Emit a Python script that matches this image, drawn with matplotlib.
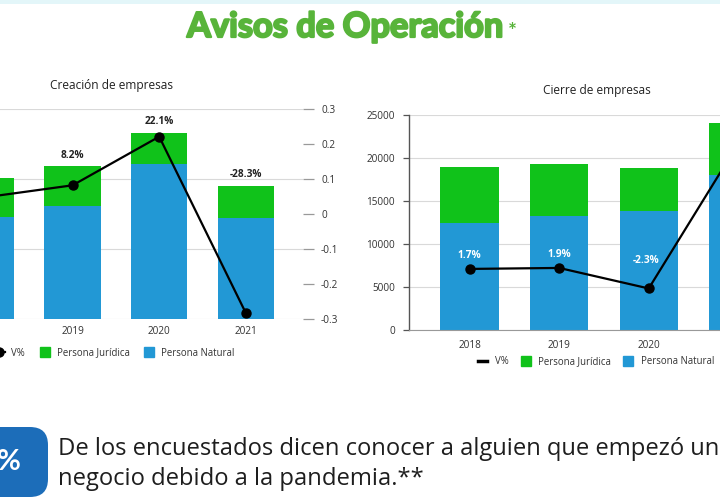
import matplotlib
matplotlib.use("Agg")
import matplotlib.pyplot as plt
import matplotlib.patheffects as pe
from matplotlib.lines import Line2D
from matplotlib.patches import FancyBboxPatch, Rectangle

# ---------------- data ----------------
years = ["2018", "2019", "2020", "2021"]
crea_natural = [14600, 16150, 22150, 14450]
crea_juridica = [5550, 5650, 4450, 4600]
crea_var = [0.048, 0.082, 0.221, -0.283]
crea_var_labels = [None, "8.2%", "22.1%", "-28.3%"]

cierre_natural = [12400, 13300, 13850, 18000]
cierre_juridica = [6550, 6010, 5020, 6050]
cierre_var = [0.017, 0.019, -0.023, 0.274]
cierre_var_labels = ["1.7%", "1.9%", "-2.3%", None]

right_ticks = [-0.3, -0.2, -0.1, 0, 0.1, 0.2, 0.3]
right_tick_labels = ["-0.3", "-0.2", "-0.1", "0", "0.1", "0.2", "0.3"]
cierre_ticks = [0, 5000, 10000, 15000, 20000, 25000]

title = "Avisos de Operación"
note = "De los encuestados dicen conocer a alguien que empezó un\nnegocio debido a la pandemia.**"

GREEN = "#10c21a"
BLUE = "#2298d5"
GRID = "#d9d9d9"
TXT = "#333333"
W, H = 720, 500

fig = plt.figure(figsize=(7.2, 5.0), dpi=100)
fig.patch.set_facecolor("white")


def fx(x):
    return x / W


def fy(y):
    return 1 - y / H


def box(x0, x1, y0, y1):
    return [fx(x0), fy(y1), (x1 - x0) / W, (y1 - y0) / H]


CF = "Open Sans"
x = list(range(len(years)))
bw = 0.65
TS = 7.2   # tick size

# top band
fig.add_artist(Rectangle((0, fy(4)), 1, 4 / H, transform=fig.transFigure,
                         color="#e3f6f9", lw=0))

# title
TITLE_C = "#58b43a"
t = fig.text(fx(187), fy(37), title, family="Lato", weight="bold", fontsize=24.8,
             color=TITLE_C, va="baseline", ha="left",
             path_effects=[pe.withStroke(linewidth=1.6, foreground=TITLE_C)])
renderer = fig.canvas.get_renderer()
bb = t.get_window_extent(renderer)
fig.text((bb.x1 + 4) / W, fy(32), "*", family="Lato", weight="bold", fontsize=15,
         color=TITLE_C, va="center", ha="left")

# ---------------- left chart ----------------
ax1 = fig.add_axes(box(-79, 303, 109, 319))
ax1.bar(x, crea_natural, bw, color=BLUE, zorder=2)
ax1.bar(x, crea_juridica, bw, bottom=crea_natural, color=GREEN, zorder=2)
ax1.set_xlim(-0.75, 3.66)
ax1.set_ylim(0, 30000)
ax1.set_yticks([0, 10000, 20000, 30000])
ax1.yaxis.grid(True, color=GRID, lw=0.8, zorder=0)
ax1.set_axisbelow(True)
ax1.tick_params(axis="y", left=False, labelleft=False)
ax1.tick_params(axis="x", length=0, labelsize=TS, labelcolor=TXT, pad=5)
ax1.set_xticks(x)
ax1.set_xticklabels(years, family=CF)
for s in ax1.spines.values():
    s.set_visible(False)

ax1b = ax1.twinx()
ax1b.plot(x, crea_var, color="black", lw=1.6, marker="o", ms=6.5, zorder=5)
ax1b.set_ylim(-0.3, 0.3)
ax1b.set_yticks(right_ticks)
ax1b.set_yticklabels(right_tick_labels, family=CF)
ax1b.tick_params(axis="y", length=8, width=0.9, color="#999999", labelsize=TS,
                 labelcolor=TXT, pad=5)
for s in ax1b.spines.values():
    s.set_visible(False)
tot1 = [a + b for a, b in zip(crea_natural, crea_juridica)]
for i, lab in enumerate(crea_var_labels):
    if lab:
        ax1.annotate(lab, (x[i], tot1[i]), xytext=(0, 8), textcoords="offset points",
                     ha="center", va="center", fontsize=7.3, weight="bold",
                     family=CF, color="#222222")

fig.text(fx(112), fy(85), "Creación de empresas", family=CF, fontsize=8.6,
         color="#222222", ha="center", va="center")

h1 = [Line2D([], [], color="black", lw=1.6, marker="o", ms=6.5),
      Line2D([], [], color=GREEN, marker="s", ms=6.8, lw=0),
      Line2D([], [], color=BLUE, marker="s", ms=6.8, lw=0)]
fig.legend(h1, ["V%", "Persona Jurídica", "Persona Natural"], ncol=3,
           loc="center left", bbox_to_anchor=(fx(-7), fy(353)), frameon=False,
           prop={"family": CF, "size": 6.9}, handlelength=1.3, handletextpad=0.6,
           columnspacing=1.4, borderpad=0, borderaxespad=0, labelcolor=TXT)

# ---------------- right chart ----------------
ax2 = fig.add_axes(box(409, 784, 115, 330))
ax2.bar(x, cierre_natural, bw, color=BLUE, zorder=2)
ax2.bar(x, cierre_juridica, bw, bottom=cierre_natural, color=GREEN, zorder=2)
ax2.set_xlim(-0.676, 3.51)
ax2.set_ylim(0, 25000)
ax2.set_yticks(cierre_ticks)
ax2.set_yticklabels([str(v) for v in cierre_ticks], family=CF)
ax2.yaxis.grid(True, color=GRID, lw=0.8, zorder=0)
ax2.set_axisbelow(True)
ax2.tick_params(axis="y", length=4, width=0.9, color="#555555", labelsize=TS,
                labelcolor=TXT, pad=6)
ax2.tick_params(axis="x", length=0, labelsize=TS, labelcolor=TXT, pad=7)
ax2.set_xticks(x)
ax2.set_xticklabels(years, family=CF)
for k in ["top", "right"]:
    ax2.spines[k].set_visible(False)
ax2.spines["left"].set_color("#555555")
ax2.spines["left"].set_linewidth(1.0)
ax2.spines["bottom"].set_color("#999999")
ax2.spines["bottom"].set_linewidth(0.8)

ax2b = ax2.twinx()
ax2b.plot(x, cierre_var, color="black", lw=1.6, marker="o", ms=6.5, zorder=5)
ax2b.set_ylim(-0.108, 0.332)
ax2b.set_yticks([])
for s in ax2b.spines.values():
    s.set_visible(False)
for i, lab in enumerate(cierre_var_labels):
    if lab:
        off = 10 if cierre_var[i] >= 0 else 20
        ax2b.annotate(lab, (x[i], cierre_var[i]),
                      xytext=(-2 if cierre_var[i] < 0 else 0, off),
                      textcoords="offset points", ha="center", va="center",
                      fontsize=7.3, weight="bold", family=CF, color="white")

fig.text(fx(597), fy(91), "Cierre de empresas", family=CF, fontsize=8.6,
         color="#222222", ha="center", va="center")

h2 = [Line2D([], [], color="black", lw=2.5),
      Line2D([], [], color=GREEN, marker="s", ms=6.8, lw=0),
      Line2D([], [], color=BLUE, marker="s", ms=6.8, lw=0)]
fig.legend(h2, ["V%", "Persona Jurídica", "Persona Natural"], ncol=3,
           loc="center left", bbox_to_anchor=(fx(478), fy(362)), frameon=False,
           prop={"family": CF, "size": 6.9}, handlelength=0.9, handletextpad=0.85,
           columnspacing=1.35, borderpad=0, borderaxespad=0, labelcolor=TXT)

# ---------------- bottom note ----------------
fig.add_artist(FancyBboxPatch((fx(-60), fy(497)), 108 / W, 70 / H,
                              boxstyle="round,pad=0,rounding_size=0.025",
                              transform=fig.transFigure, facecolor="#1c6db9",
                              edgecolor="none", mutation_aspect=W / H))
fig.text(fx(9), fy(462), "%", family="Lato", weight="bold", fontsize=21,
         color="white", ha="center", va="center")
fig.text(fx(58), fy(464), note, family=CF, fontsize=17.1, color="#1e1e1e",
         ha="left", va="center", linespacing=1.28)

fig.savefig("out.png", dpi=100, facecolor="white")
